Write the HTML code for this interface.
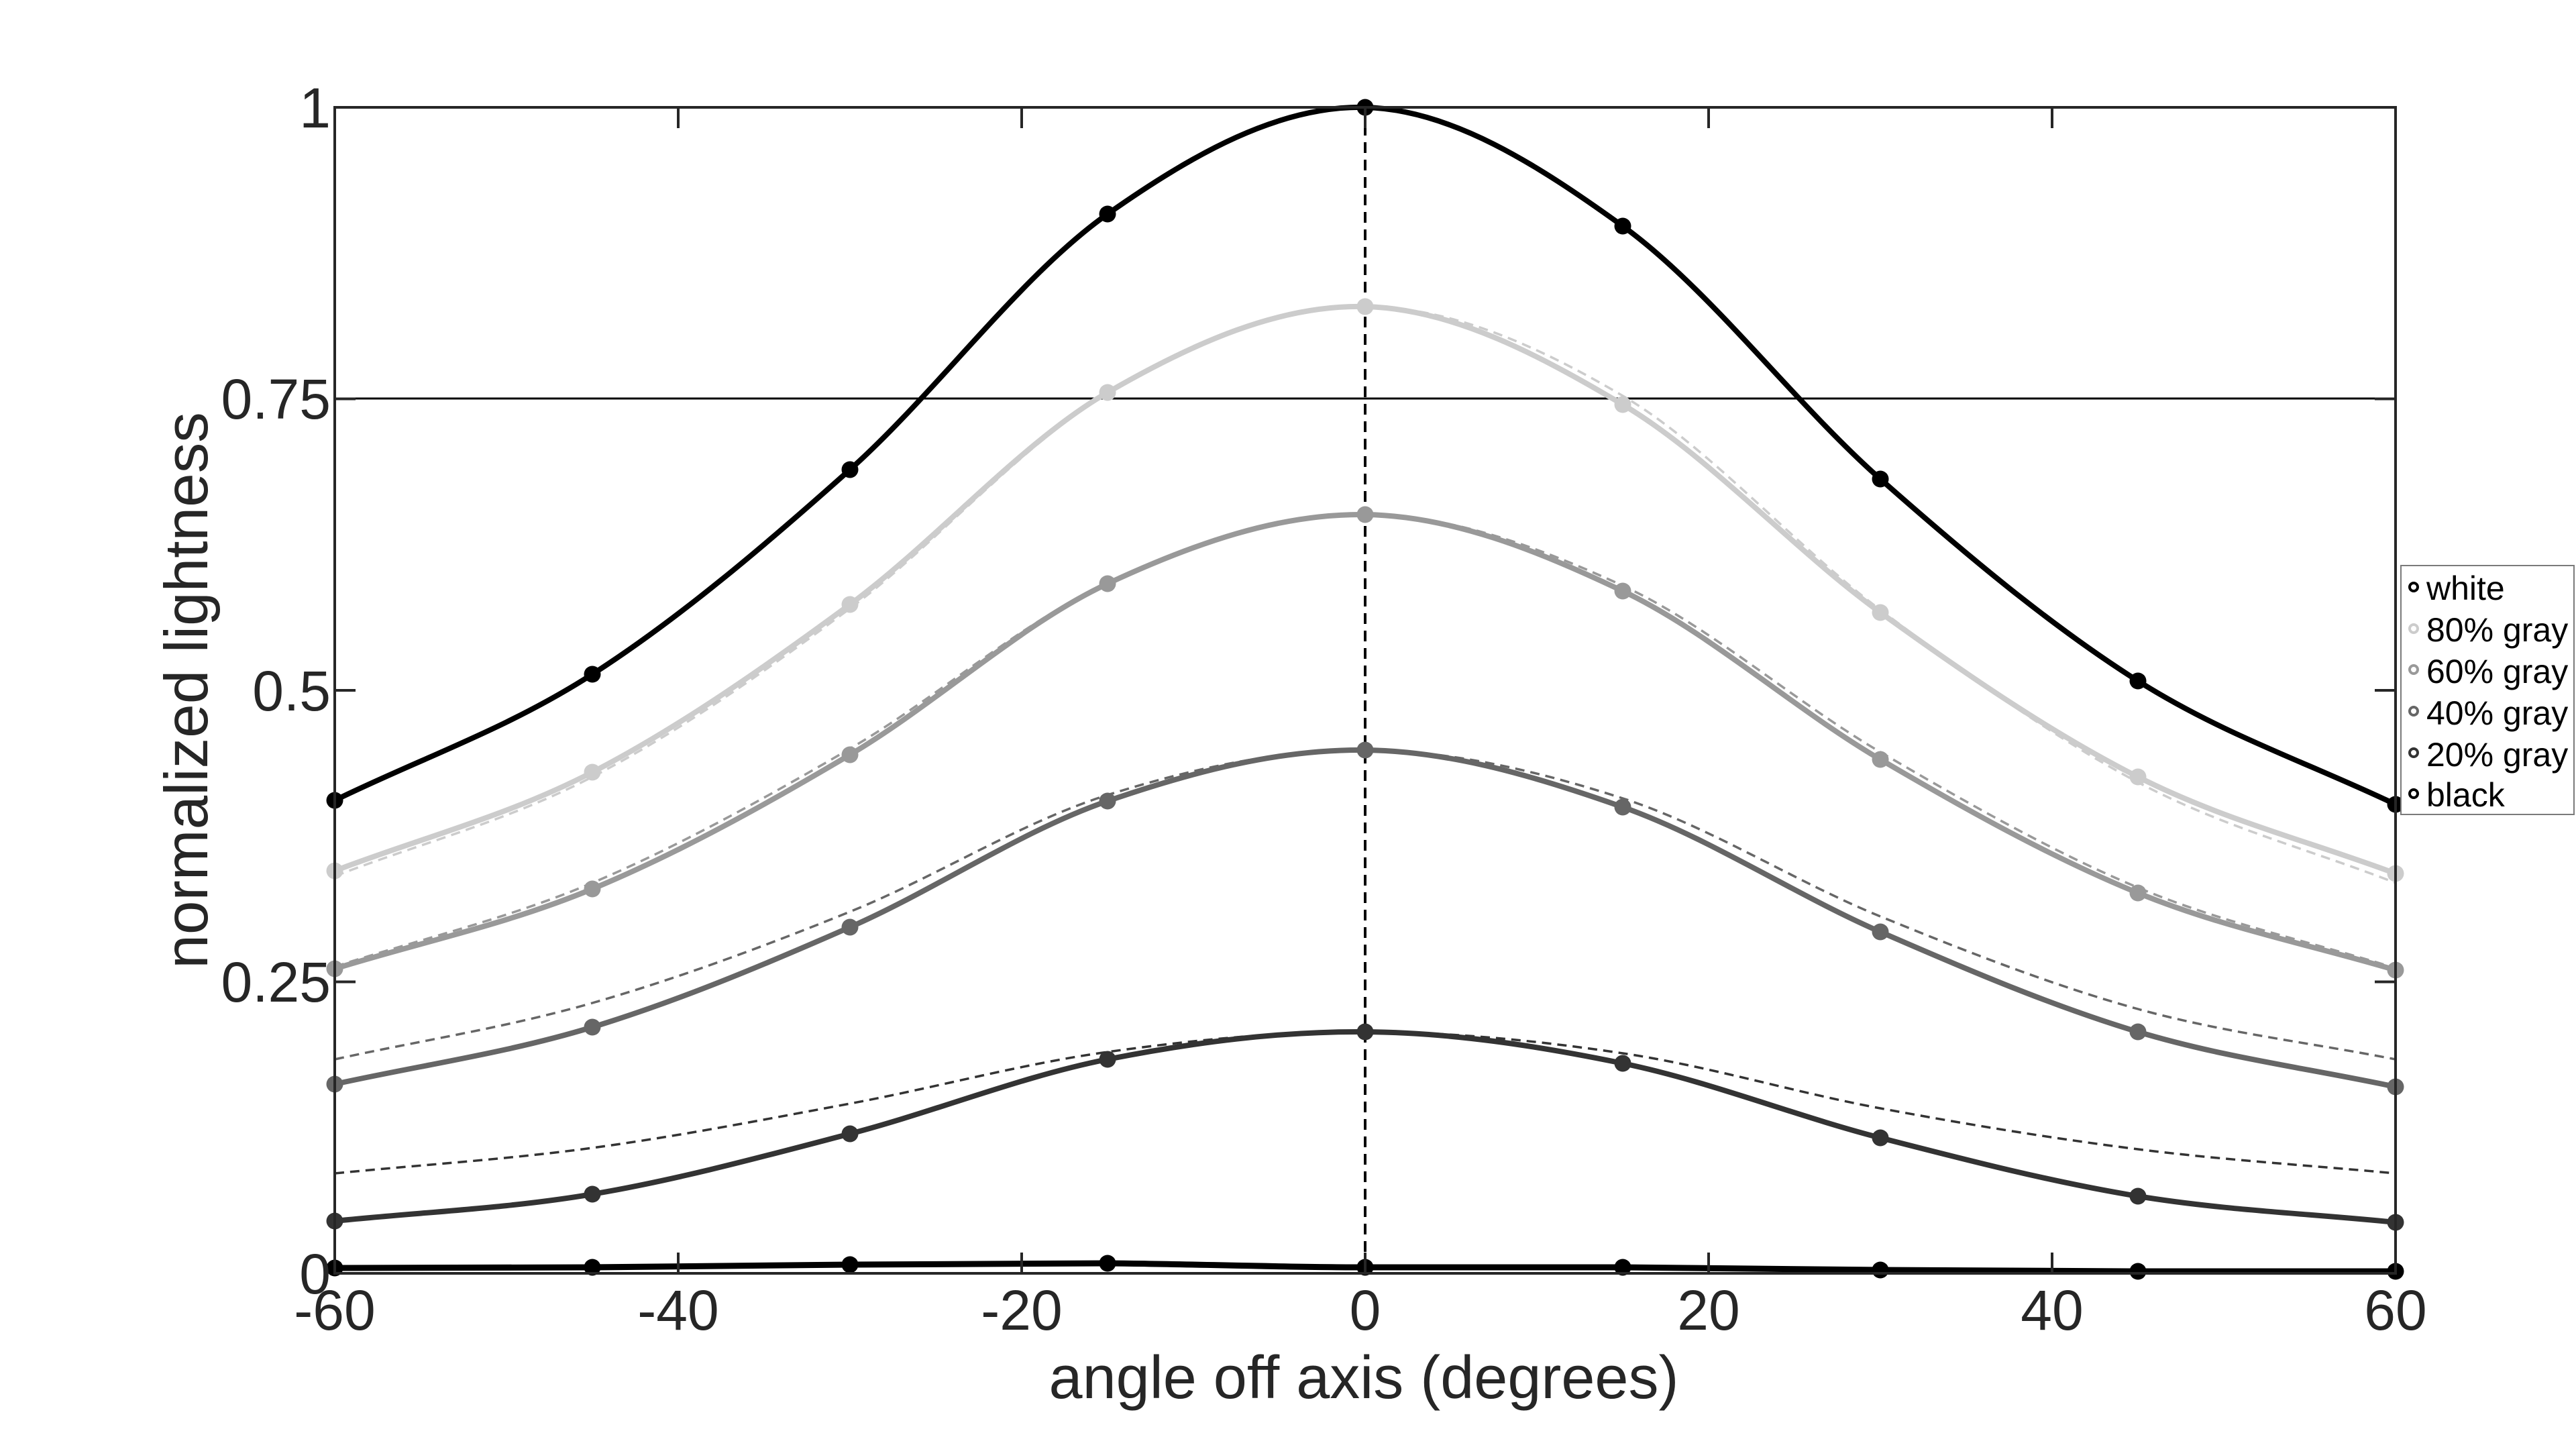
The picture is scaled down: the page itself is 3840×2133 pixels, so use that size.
<!DOCTYPE html>
<html>
<head>
<meta charset="utf-8">
<style>
html,body{margin:0;padding:0;background:#fff;}
svg{display:block;}
text{font-family:"Liberation Sans",Arial,Helvetica,sans-serif;fill:#262626;}
</style>
</head>
<body>
<svg width="3840" height="2133" viewBox="0 0 3840 2133" xmlns="http://www.w3.org/2000/svg">
<rect x="0" y="0" width="3840" height="2133" fill="#fff"/>

<!-- reference lines -->
<line x1="499" y1="594" x2="3571" y2="594" stroke="#000" stroke-width="3"/>
<line x1="2035" y1="160" x2="2035" y2="1898" stroke="#000" stroke-width="4" stroke-dasharray="16 10"/>

<!-- dashed fit curves -->
<g fill="none" stroke-width="3.5" stroke-dasharray="14 9">
<path stroke="#cccccc" d="M499,1306 C627,1256.7 755,1224.5 883,1158 C1011,1091.5 1139,1002.2 1267,907 C1395,811.8 1523,662 1651,587 C1779,512 1907,456.5 2035,457 C2163,457.5 2291,514.7 2419,590 C2547,665.3 2675,813 2803,909 C2931,1005 3059,1098.2 3187,1166 C3315,1233.8 3443,1266 3571,1316"/>
<path stroke="#999999" d="M499,1441 C627,1399.3 755,1370.2 883,1316 C1011,1261.8 1139,1190.5 1267,1116 C1395,1041.5 1523,927.2 1651,869 C1779,810.8 1907,766.3 2035,767 C2163,767.7 2291,814 2419,873 C2547,932 2675,1046 2803,1121 C2931,1196 3059,1269.3 3187,1323 C3315,1376.7 3443,1403 3571,1443"/>
<path stroke="#666666" d="M499,1579 C627,1551 755,1531.7 883,1495 C1011,1458.3 1139,1410.7 1267,1359 C1395,1307.3 1523,1225.2 1651,1185 C1779,1144.8 1907,1117.2 2035,1118 C2163,1118.8 2291,1148.7 2419,1190 C2547,1231.3 2675,1313.7 2803,1366 C2931,1418.3 3059,1468.5 3187,1504 C3315,1539.5 3443,1554 3571,1579"/>
<path stroke="#333333" d="M499,1749 C627,1736.3 755,1728.3 883,1711 C1011,1693.7 1139,1668.8 1267,1645 C1395,1621.2 1523,1585.8 1651,1568 C1779,1550.2 1907,1537.2 2035,1538 C2163,1538.3 2291,1551 2419,1570 C2547,1589 2675,1628.2 2803,1652 C2931,1675.8 3059,1696.8 3187,1713 C3315,1729.2 3443,1737 3571,1749"/>
</g>

<!-- solid curves -->
<g fill="none" stroke-width="8" stroke-linejoin="round" stroke-linecap="round">
<path stroke="#cccccc" d="M499,1298 C627,1249 755,1217.2 883,1151 C1011,1084.8 1139,995.3 1267,901 C1395,806.7 1523,659 1651,585 C1779,511 1907,454 2035,457 C2163,460 2291,527 2419,603 C2547,679 2675,820.5 2803,913 C2931,1005.5 3059,1093.2 3187,1158 C3315,1222.8 3443,1254 3571,1302"/>
<path stroke="#999999" d="M499,1444 C627,1404.3 755,1378.2 883,1325 C1011,1271.8 1139,1200.8 1267,1125 C1395,1049.2 1523,929.7 1651,870 C1779,810.3 1907,765.2 2035,767 C2163,768.8 2291,820.2 2419,881 C2547,941.8 2675,1057 2803,1132 C2931,1207 3059,1278.7 3187,1331 C3315,1383.3 3443,1407.7 3571,1446"/>
<path stroke="#666666" d="M499,1616 C627,1587.7 755,1570 883,1531 C1011,1492 1139,1438.2 1267,1382 C1395,1325.8 1523,1238 1651,1194 C1779,1150 1907,1116.5 2035,1118 C2163,1119.5 2291,1157.8 2419,1203 C2547,1248.2 2675,1333.2 2803,1389 C2931,1444.8 3059,1499.5 3187,1538 C3315,1576.5 3443,1592.7 3571,1620"/>
<path stroke="#333333" d="M499,1820 C627,1806.7 755,1801.7 883,1780 C1011,1758.3 1139,1723.5 1267,1690 C1395,1656.5 1523,1604.3 1651,1579 C1779,1553.7 1907,1537 2035,1538 C2163,1539 2291,1558.7 2419,1585 C2547,1611.3 2675,1663 2803,1696 C2931,1729 3059,1762 3187,1783 C3315,1804 3443,1809 3571,1822"/>
<path stroke="#000000" stroke-width="9" d="M499,1890 C627,1890 755,1889.5 883,1889 C1011,1888 1139,1886 1267,1885 C1395,1884 1523,1883 1651,1883 C1779,1884 1907,1889 2035,1889 C2163,1889 2291,1889 2419,1889 C2547,1890 2675,1892 2803,1893 C2931,1894 3059,1895 3187,1895 C3315,1895 3443,1895 3571,1895"/>
<path stroke="#000000" d="M499,1193 C627,1130.3 755,1087.2 883,1005 C1011,922.8 1139,814.3 1267,700 C1395,585.7 1523,409 1651,319 C1779,229 1907,157 2035,160 C2163,163 2291,244.7 2419,337 C2547,429.3 2675,601 2803,714 C2931,827 3059,934.2 3187,1015 C3315,1095.8 3443,1137.7 3571,1199"/>
</g>

<!-- markers -->
<g fill="#cccccc">
<circle cx="499" cy="1298" r="12.5"/><circle cx="883" cy="1151" r="12.5"/><circle cx="1267" cy="901" r="12.5"/><circle cx="1651" cy="585" r="12.5"/><circle cx="2035" cy="457" r="12.5"/><circle cx="2419" cy="603" r="12.5"/><circle cx="2803" cy="913" r="12.5"/><circle cx="3187" cy="1158" r="12.5"/><circle cx="3571" cy="1302" r="12.5"/>
</g>
<g fill="#999999">
<circle cx="499" cy="1444" r="12.5"/><circle cx="883" cy="1325" r="12.5"/><circle cx="1267" cy="1125" r="12.5"/><circle cx="1651" cy="870" r="12.5"/><circle cx="2035" cy="767" r="12.5"/><circle cx="2419" cy="881" r="12.5"/><circle cx="2803" cy="1132" r="12.5"/><circle cx="3187" cy="1331" r="12.5"/><circle cx="3571" cy="1446" r="12.5"/>
</g>
<g fill="#666666">
<circle cx="499" cy="1616" r="12.5"/><circle cx="883" cy="1531" r="12.5"/><circle cx="1267" cy="1382" r="12.5"/><circle cx="1651" cy="1194" r="12.5"/><circle cx="2035" cy="1118" r="12.5"/><circle cx="2419" cy="1203" r="12.5"/><circle cx="2803" cy="1389" r="12.5"/><circle cx="3187" cy="1538" r="12.5"/><circle cx="3571" cy="1620" r="12.5"/>
</g>
<g fill="#333333">
<circle cx="499" cy="1820" r="12.5"/><circle cx="883" cy="1780" r="12.5"/><circle cx="1267" cy="1690" r="12.5"/><circle cx="1651" cy="1579" r="12.5"/><circle cx="2035" cy="1538" r="12.5"/><circle cx="2419" cy="1585" r="12.5"/><circle cx="2803" cy="1696" r="12.5"/><circle cx="3187" cy="1783" r="12.5"/><circle cx="3571" cy="1822" r="12.5"/>
</g>
<g fill="#000000">
<circle cx="499" cy="1890" r="12.5"/><circle cx="883" cy="1889" r="12.5"/><circle cx="1267" cy="1885" r="12.5"/><circle cx="1651" cy="1883" r="12.5"/><circle cx="2035" cy="1889" r="12.5"/><circle cx="2419" cy="1889" r="12.5"/><circle cx="2803" cy="1893" r="12.5"/><circle cx="3187" cy="1895" r="12.5"/><circle cx="3571" cy="1895" r="12.5"/>
<circle cx="499" cy="1193" r="12.5"/><circle cx="883" cy="1005" r="12.5"/><circle cx="1267" cy="700" r="12.5"/><circle cx="1651" cy="319" r="12.5"/><circle cx="2035" cy="160" r="12.5"/><circle cx="2419" cy="337" r="12.5"/><circle cx="2803" cy="714" r="12.5"/><circle cx="3187" cy="1015" r="12.5"/><circle cx="3571" cy="1199" r="12.5"/>
</g>

<!-- axes box -->
<rect x="499" y="160" width="3072" height="1738" fill="none" stroke="#262626" stroke-width="4"/>

<!-- ticks -->
<g stroke="#262626" stroke-width="4">
<line x1="1011" y1="1898" x2="1011" y2="1867"/><line x1="1523" y1="1898" x2="1523" y2="1867"/><line x1="2035" y1="1898" x2="2035" y2="1867"/><line x1="2547" y1="1898" x2="2547" y2="1867"/><line x1="3059" y1="1898" x2="3059" y2="1867"/>
<line x1="1011" y1="160" x2="1011" y2="191"/><line x1="1523" y1="160" x2="1523" y2="191"/><line x1="2035" y1="160" x2="2035" y2="191"/><line x1="2547" y1="160" x2="2547" y2="191"/><line x1="3059" y1="160" x2="3059" y2="191"/>
<line x1="499" y1="594.5" x2="530" y2="594.5"/><line x1="499" y1="1029" x2="530" y2="1029"/><line x1="499" y1="1463.5" x2="530" y2="1463.5"/>
<line x1="3571" y1="594.5" x2="3540" y2="594.5"/><line x1="3571" y1="1029" x2="3540" y2="1029"/><line x1="3571" y1="1463.5" x2="3540" y2="1463.5"/>
</g>

<!-- y tick labels -->
<g font-size="84" text-anchor="end">
<text x="493" y="190">1</text>
<text x="493" y="624">0.75</text>
<text x="493" y="1059">0.5</text>
<text x="493" y="1493">0.25</text>
<text x="493" y="1928">0</text>
</g>

<!-- x tick labels -->
<g font-size="84" text-anchor="middle">
<text x="499" y="1982">-60</text>
<text x="1011" y="1982">-40</text>
<text x="1523" y="1982">-20</text>
<text x="2035" y="1982">0</text>
<text x="2547" y="1982">20</text>
<text x="3059" y="1982">40</text>
<text x="3571" y="1982">60</text>
</g>

<!-- axis labels -->
<text x="2033" y="2084" font-size="90" text-anchor="middle">angle off axis (degrees)</text>
<text transform="translate(309,1029) rotate(-90)" x="0" y="0" font-size="91" text-anchor="middle">normalized lightness</text>

<!-- legend -->
<rect x="3579" y="843" width="258" height="371" fill="#fff" stroke="#7a7a7a" stroke-width="2"/>
<g fill="#fff" stroke-width="4">
<circle cx="3598" cy="875" r="6" stroke="#000000"/>
<circle cx="3598" cy="937" r="6" stroke="#cccccc"/>
<circle cx="3598" cy="998" r="6" stroke="#999999"/>
<circle cx="3598" cy="1060" r="6" stroke="#666666"/>
<circle cx="3598" cy="1122" r="6" stroke="#333333"/>
<circle cx="3598" cy="1183" r="6" stroke="#000000"/>
</g>
<g font-size="50">
<text x="3617" y="894" style="fill:#000">white</text>
<text x="3617" y="956" style="fill:#000">80% gray</text>
<text x="3617" y="1018" style="fill:#000">60% gray</text>
<text x="3617" y="1080" style="fill:#000">40% gray</text>
<text x="3617" y="1142" style="fill:#000">20% gray</text>
<text x="3617" y="1202" style="fill:#000">black</text>
</g>
</svg>
</body>
</html>
